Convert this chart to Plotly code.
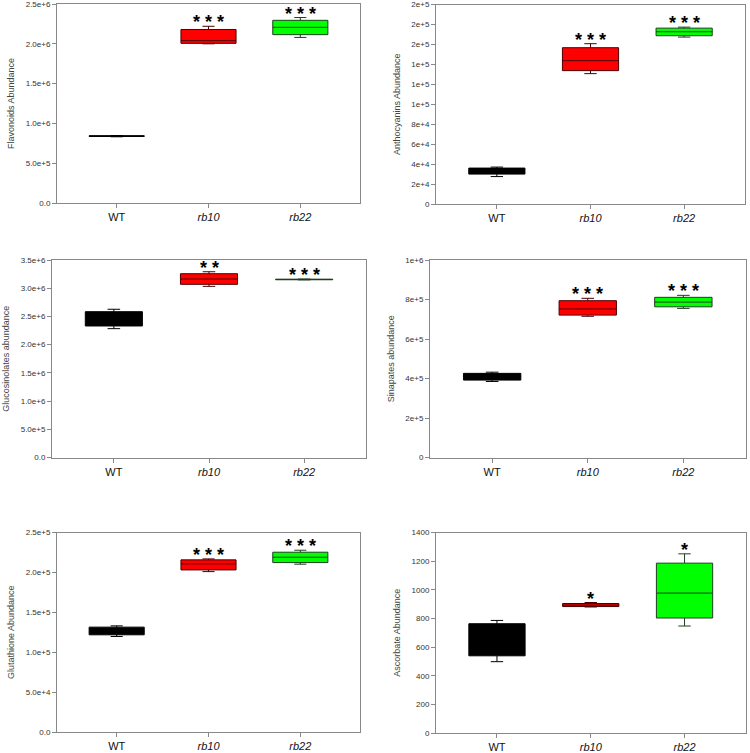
import plotly.graph_objects as go

W, H = 750, 753
groups = ["WT", "rb10", "rb22"]
group_labels = ["WT", "<i>rb10</i>", "<i>rb22</i>"]
fills = ["#000000", "#FF0000", "#00FF00"]
outlines = ["#000000", "#4d0000", "#1f3f1f"]

# Panel 1: Flavonoids
flav_q1 = [0.836e6, 2.006e6, 2.115e6]
flav_med = [0.840e6, 2.040e6, 2.207e6]
flav_q3 = [0.845e6, 2.180e6, 2.295e6]
flav_lo = [0.832e6, 2.000e6, 2.080e6]
flav_hi = [0.848e6, 2.220e6, 2.330e6]
flav_sig = ["", "***", "***"]
flav_ticks = [0, 5e5, 1e6, 1.5e6, 2e6, 2.5e6]
flav_ticktext = ["0.0", "5.0e+5", "1.0e+6", "1.5e+6", "2.0e+6", "2.5e+6"]

# Panel 2: Anthocyanins
anth_q1 = [30.0e3, 133.7e3, 168.7e3]
anth_med = [33.0e3, 143.7e3, 172.7e3]
anth_q3 = [36.0e3, 156.7e3, 176.3e3]
anth_lo = [27.5e3, 130.7e3, 167.3e3]
anth_hi = [37.0e3, 160.7e3, 177.3e3]
anth_sig = ["", "***", "***"]
anth_ticks = [0, 2e4, 4e4, 6e4, 8e4, 1e5, 1.2e5, 1.4e5, 1.6e5, 1.8e5, 2e5]
anth_ticktext = ["0", "2e+4", "4e+4", "6e+4", "8e+4", "1e+5", "1e+5", "1e+5", "2e+5", "2e+5", "2e+5"]

# Panel 3: Glucosinolates
gluc_q1 = [2.331e6, 3.069e6, 3.150e6]
gluc_med = [2.450e6, 3.163e6, 3.155e6]
gluc_q3 = [2.584e6, 3.257e6, 3.160e6]
gluc_lo = [2.283e6, 3.033e6, 3.148e6]
gluc_hi = [2.627e6, 3.292e6, 3.162e6]
gluc_sig = ["", "**", "***"]
gluc_ticks = [0, 5e5, 1e6, 1.5e6, 2e6, 2.5e6, 3e6, 3.5e6]
gluc_ticktext = ["0.0", "5.0e+5", "1.0e+6", "1.5e+6", "2.0e+6", "2.5e+6", "3.0e+6", "3.5e+6"]

# Panel 4: Sinapates
sina_q1 = [0.392e6, 0.721e6, 0.763e6]
sina_med = [0.410e6, 0.752e6, 0.787e6]
sina_q3 = [0.426e6, 0.794e6, 0.811e6]
sina_lo = [0.385e6, 0.715e6, 0.755e6]
sina_hi = [0.432e6, 0.806e6, 0.821e6]
sina_sig = ["", "***", "***"]
sina_ticks = [0, 2e5, 4e5, 6e5, 8e5, 1e6]
sina_ticktext = ["0", "2e+5", "4e+5", "6e+5", "8e+5", "1e+6"]

# Panel 5: Glutathione
glut_q1 = [1.218e5, 2.031e5, 2.123e5]
glut_med = [1.260e5, 2.107e5, 2.190e5]
glut_q3 = [1.314e5, 2.157e5, 2.253e5]
glut_lo = [1.197e5, 2.010e5, 2.103e5]
glut_hi = [1.330e5, 2.169e5, 2.278e5]
glut_sig = ["", "***", "***"]
glut_ticks = [0, 5e4, 1e5, 1.5e5, 2e5, 2.5e5]
glut_ticktext = ["0.0", "5.0e+4", "1.0e+5", "1.5e+5", "2.0e+5", "2.5e+5"]

# Panel 6: Ascorbate
asc_q1 = [539, 883, 803]
asc_med = [650, 893, 977]
asc_q3 = [763, 904, 1186]
asc_lo = [498, 880, 747]
asc_hi = [786, 911, 1251]
asc_sig = ["", "*", "*"]
asc_ticks = [0, 200, 400, 600, 800, 1000, 1200, 1400]
asc_ticktext = [str(v) for v in asc_ticks]

panels = [
    dict(title="Flavonoids Abundance", q1=flav_q1, med=flav_med, q3=flav_q3, lo=flav_lo, hi=flav_hi,
         sig=flav_sig, ticks=flav_ticks, ticktext=flav_ticktext, px=(57, 360), py=(4, 203)),
    dict(title="Anthocyanins Abundance", q1=anth_q1, med=anth_med, q3=anth_q3, lo=anth_lo, hi=anth_hi,
         sig=anth_sig, ticks=anth_ticks, ticktext=anth_ticktext, px=(436, 745), py=(4.5, 204)),
    dict(title="Glucosinolates abundance", q1=gluc_q1, med=gluc_med, q3=gluc_q3, lo=gluc_lo, hi=gluc_hi,
         sig=gluc_sig, ticks=gluc_ticks, ticktext=gluc_ticktext, px=(52, 366), py=(260, 457.5)),
    dict(title="Sinapates abundance", q1=sina_q1, med=sina_med, q3=sina_q3, lo=sina_lo, hi=sina_hi,
         sig=sina_sig, ticks=sina_ticks, ticktext=sina_ticktext, px=(430, 745.5), py=(260, 457.5)),
    dict(title="Glutathione Abundance", q1=glut_q1, med=glut_med, q3=glut_q3, lo=glut_lo, hi=glut_hi,
         sig=glut_sig, ticks=glut_ticks, ticktext=glut_ticktext, px=(57, 360), py=(532.5, 732)),
    dict(title="Ascorbate Abundance", q1=asc_q1, med=asc_med, q3=asc_q3, lo=asc_lo, hi=asc_hi,
         sig=asc_sig, ticks=asc_ticks, ticktext=asc_ticktext, px=(436, 745.5), py=(532.5, 733)),
]

fig = go.Figure()
annotations = []
layout = dict(
    width=W, height=H, margin=dict(l=0, r=0, t=0, b=0, autoexpand=False),
    paper_bgcolor="white", plot_bgcolor="white", showlegend=False,
    font=dict(family="Liberation Sans, Arial, sans-serif", color="#000"),
)

for k, p in enumerate(panels):
    n = "" if k == 0 else str(k + 1)
    xa, ya = "x" + n, "y" + n
    for i in range(3):
        fig.add_trace(go.Box(
            x=[i], q1=[p["q1"][i]], median=[p["med"][i]], q3=[p["q3"][i]],
            lowerfence=[p["lo"][i]], upperfence=[p["hi"][i]],
            fillcolor=fills[i], line=dict(color=outlines[i], width=1),
            width=0.6, whiskerwidth=0.22, boxpoints=False,
            xaxis=xa, yaxis=ya, hoverinfo="skip",
        ))
        if p["sig"][i]:
            annotations.append(dict(
                x=i, y=p["hi"][i], xref=xa, yref=ya, text="<b>" + " ".join(p["sig"][i]) + "</b>",
                showarrow=False, yanchor="middle", yshift=4,
                font=dict(size=18, color="#000", family="Liberation Sans, Arial, sans-serif"),
            ))
    x0, x1 = p["px"]
    y0, y1 = p["py"]
    layout["xaxis" + n] = dict(
        domain=[x0 / W, x1 / W], anchor=ya, range=[-0.65, 2.65], automargin=False,
        tickvals=[0, 1, 2], ticktext=group_labels, ticklabeloverflow="allow",
        showline=True, mirror=True, linecolor="#888", linewidth=1,
        ticks="outside", ticklen=4, tickcolor="#888", showgrid=False, zeroline=False,
        tickfont=dict(size=11, color="#111"),
    )
    layout["yaxis" + n] = dict(
        domain=[1 - y1 / H, 1 - y0 / H], anchor=xa, range=[0, p["ticks"][-1]], automargin=False,
        tickvals=p["ticks"], ticktext=p["ticktext"], ticklabeloverflow="allow",
        showline=True, mirror=True, linecolor="#888", linewidth=1,
        ticks="outside", ticklen=4, tickcolor="#888", showgrid=False, zeroline=False,
        tickfont=dict(size=8, color="#333"),
        title=dict(text=p["title"], font=dict(size=9, color="#444"), standoff=9),
    )

layout["annotations"] = annotations
fig.update_layout(**layout)
fig.write_html(
    "out.html",
    config={"displayModeBar": False},
    post_script="document.body.style.margin='0';document.documentElement.style.overflow='hidden';",
)
